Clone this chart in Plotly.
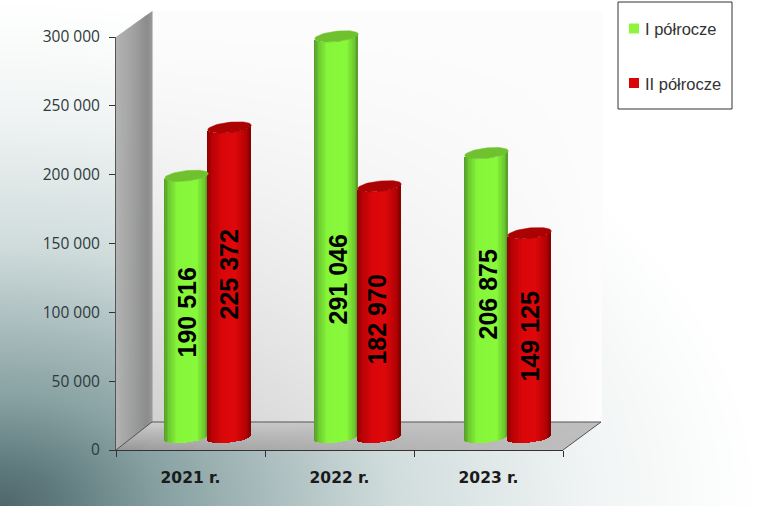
import numpy as np
import plotly.graph_objects as go

# ---- data ----
categories = ["2021 r.", "2022 r.", "2023 r."]
series_1_name = "I półrocze"
series_2_name = "II półrocze"
series_1 = [190516, 291046, 206875]
series_2 = [225372, 182970, 149125]
label_1_at = [91600, 115400, 104600]
label_2_at = [119000, 86500, 74300]
y_ticks = [0, 50000, 100000, 150000, 200000, 250000, 300000]

W, H = 760, 506
fig = go.Figure()


def dx(a, b):
    return [a / W, b / W]


def dy(top, bottom):
    return [1 - bottom / H, 1 - top / H]


# page gradient
gx = np.linspace(0, W, 120)
gy = np.linspace(0, H, 80)
X, Y = np.meshgrid(gx, gy)
R = np.sqrt(X ** 2 + ((H - Y) * 1.5) ** 2)
fig.add_trace(go.Heatmap(
    x=gx, y=gy, z=R, zmin=0, zmax=800, zsmooth="best", showscale=False, hoverinfo="skip",
    colorscale=[[0, "#4e666a"], [0.075, "#5f7a7d"], [0.2, "#86a0a1"], [0.35, "#adbfc0"],
                [0.49, "#d0dcdc"], [0.75, "#f2f5f5"], [0.95, "#ffffff"], [1, "#ffffff"]],
    xaxis="x", yaxis="y"))

# back wall
wx = np.linspace(0, 1, 40)
wy = np.linspace(0, 1, 40)
WX, WY = np.meshgrid(wx, wy)
WZ = 1 - 0.01 - 0.17 * WY ** 1.4 * (1 - WX) ** 0.9
fig.add_trace(go.Heatmap(
    x=wx, y=wy, z=WZ, zmin=0, zmax=1, zsmooth="best", showscale=False, hoverinfo="skip",
    colorscale=[[0, "#000000"], [1, "#ffffff"]], xaxis="x2", yaxis="y2"))


# left wall and floor: decoration in page pixels on x3/y3
def lerp(c1, c2, t):
    return "rgb(%d,%d,%d)" % tuple(round(a + (b - a) * t) for a, b in zip(c1, c2))


shapes = []
NS = 36
for i in range(NS):
    t0, t1 = i / NS, min((i + 1.6) / NS, 1)
    xa, xb = 116 + 36.5 * t0, 116 + 36.5 * t1
    ya_t, yb_t = 37 - 26 * t0, 37 - 26 * t1
    ya_b, yb_b = 450 - 28.5 * t0, 450 - 28.5 * t1
    f = i / NS
    col = lerp((178, 178, 178), (140, 140, 140), f / 0.85) if f < 0.85 else lerp((140, 140, 140), (156, 156, 156), (f - 0.85) / 0.15)
    shapes.append(dict(type="path", xref="x3", yref="y3", layer="below", line_width=0, fillcolor=col,
                       path=f"M{xa},{ya_t}L{xb},{yb_t}L{xb},{yb_b}L{xa},{ya_b}Z"))
NF_Y, NF_X = 14, 18
for i in range(NF_Y):
    t0, t1 = i / NF_Y, min((i + 1.5) / NF_Y, 1)
    y0, y1 = 422 + 28 * t0, 422 + 28 * t1
    xl0, xl1 = 152 - 36 * t0, 152 - 36 * t1
    xr0, xr1 = 601 - 38 * t0, 601 - 38 * t1
    for j in range(NF_X):
        s0, s1 = j / NF_X, min((j + 1.3) / NF_X, 1)
        base = 205 - 55 * (i / NF_Y)
        g = base + (190 - base) * (j / NF_X) ** 0.7
        pts = [(xl0 + (xr0 - xl0) * s0, y0), (xl0 + (xr0 - xl0) * s1, y0),
               (xl1 + (xr1 - xl1) * s1, y1), (xl1 + (xr1 - xl1) * s0, y1)]
        path = "M" + "L".join(f"{a:.1f},{b:.1f}" for a, b in pts) + "Z"
        shapes.append(dict(type="path", xref="x3", yref="y3", layer="below", line_width=0,
                           fillcolor=lerp((g, g, g), (g, g, g), 0), path=path))
for p in ["M152,422L601,422", "M116,450L152,422", "M563,450L601,422"]:
    shapes.append(dict(type="path", xref="x3", yref="y3", layer="below",
                       line=dict(color="#555555", width=1), path=p))
# legend box
shapes.append(dict(type="rect", xref="x3", yref="y3", layer="below", x0=618, x1=732, y0=2, y1=109,
                   fillcolor="#ffffff", line=dict(color="#333333", width=1)))
legend_names = [series_1_name, series_2_name]
legend_colors = ["#8cf53c", "#d80408"]
fig.add_trace(go.Scatter(x=[634, 634], y=[28.5, 83], mode="markers", showlegend=False, hoverinfo="skip",
                         marker=dict(symbol="square", size=10, color=legend_colors, line_width=0),
                         xaxis="x3", yaxis="y3"))

# tick axes
fig.add_trace(go.Bar(x=categories, y=[None] * 3, showlegend=False, hoverinfo="skip", xaxis="x4", yaxis="y4"))

# cylinders
PX_PER_VAL = 416 / 300000
VAL_PER_PX = 1 / PX_PER_VAL
GROUP_PX = 150
half = 21.8 / GROUP_PX
shift = 21.5 / GROUP_PX
B = 5.2
TILT = 2.3
BASE_PX = 2.5  # ellipse centre above the axis zero
N = 32
US = (np.arange(N) + 0.5) / N * 2 - 1
GREEN = [(0.0, (84, 150, 42)), (0.1, (106, 200, 46)), (0.3, (134, 246, 58)), (0.75, (136, 248, 58)),
         (0.92, (108, 200, 46)), (1.0, (86, 150, 42))]
RED = [(0.0, (140, 0, 0)), (0.12, (185, 2, 5)), (0.35, (218, 6, 9)), (0.65, (220, 8, 10)),
       (0.88, (182, 2, 5)), (1.0, (130, 0, 0))]


def ramp(stops, t):
    for (a, ca), (b, cb) in zip(stops, stops[1:]):
        if t <= b:
            return lerp(ca, cb, (t - a) / (b - a))
    return lerp(stops[-1][1], stops[-1][1], 0)


def cylinder_strips(values, offset, stops):
    xs, tops, bases, colors = [], [], [], []
    for i, v in enumerate(values):
        for u in US:
            curve = B * np.sqrt(1 - u * u)
            xs.append(i + offset + u * half)
            bases.append((BASE_PX - curve + TILT * u) * VAL_PER_PX)
            tops.append(v + (-curve + TILT * u) * VAL_PER_PX)
            colors.append(ramp(stops, (u + 1) / 2))
    h = [t - b for t, b in zip(tops, bases)]
    return xs, h, bases, colors


strip_w = 2 * half / N * 1.25
for vals, off, stops, name in [(series_1, -shift, GREEN, series_1_name), (series_2, shift, RED, series_2_name)]:
    xs, h, bases, colors = cylinder_strips(vals, off, stops)
    fig.add_trace(go.Bar(x=xs, y=h, base=bases, width=strip_w, marker=dict(color=colors, line_width=0),
                         name=name, showlegend=False, hoverinfo="skip", xaxis="x5", yaxis="y5"))

# caps
theta = np.linspace(0, 2 * np.pi, 60)
for vals, off, col in [(series_1, -shift, "#6fc22e"), (series_2, shift, "#ab0204")]:
    for i, v in enumerate(vals):
        cx = i + off + half * np.cos(theta)
        cy = v + (B * np.sin(theta) + TILT * np.cos(theta)) * VAL_PER_PX
        fig.add_trace(go.Scatter(x=cx, y=cy, mode="lines", fill="toself", fillcolor=col,
                                 line=dict(color=col, width=0.5), showlegend=False, hoverinfo="skip",
                                 xaxis="x5", yaxis="y5"))

# value labels
label_nudges = [[0, 1, 1], [-1, -2, 0]]
annotations = []
for vals, at, off, nudge in [(series_1, label_1_at, -shift, label_nudges[0]), (series_2, label_2_at, shift, label_nudges[1])]:
    for i, (v, a) in enumerate(zip(vals, at)):
        annotations.append(dict(x=i + off, y=a, xref="x5", yref="y5", showarrow=False, textangle=-90,
                                xshift=nudge[i], text=f"{v:,}".replace(",", " "),
                                font=dict(family="Liberation Sans", size=25, color="#000000", weight="bold")))
# legend texts
for name, py in zip(legend_names, [28.5, 83.5]):
    annotations.append(dict(x=643, y=py, xref="x3", yref="y3", showarrow=False, xanchor="left", text=name,
                            font=dict(family="Liberation Sans", size=16.5, color="#333333")))

y5_lo, y5_hi = -30000, 310000
y5_bottom = 440 - y5_lo * PX_PER_VAL
y5_top = 440 - y5_hi * PX_PER_VAL
x5_left = 208 - 0.5 * GROUP_PX
x5_right = 208 + 2.5 * GROUP_PX

hidden = dict(visible=False, automargin=False)
fig.update_layout(
    width=W, height=H, margin=dict(l=0, r=0, t=0, b=0, pad=0),
    paper_bgcolor="#ffffff", plot_bgcolor="rgba(0,0,0,0)",
    barmode="overlay", bargap=0, shapes=shapes, annotations=annotations, showlegend=False,
    xaxis=dict(domain=[0, 1], range=[0, W], **hidden),
    yaxis=dict(domain=[0, 1], range=[H, 0], **hidden),
    xaxis2=dict(domain=dx(152, 602), range=[0, 1], anchor="y2", **hidden),
    yaxis2=dict(domain=dy(11, 422), range=[1, 0], anchor="x2", **hidden),
    xaxis3=dict(domain=[0, 1], range=[0, W], anchor="y3", **hidden),
    yaxis3=dict(domain=[0, 1], range=[H, 0], anchor="x3", **hidden),
    xaxis4=dict(domain=dx(116, 563), anchor="y4", type="category", categoryorder="array", automargin=False,
                categoryarray=categories, tickson="boundaries", ticks="outside", ticklen=6, tickwidth=1,
                tickcolor="#333333", showline=True, linecolor="#333333", linewidth=1, showgrid=False,
                tickfont=dict(family="DejaVu Sans", size=15.5, color="#1a1a1a", weight="bold"), ticklabelstandoff=13),
    yaxis4=dict(domain=dy(37, 450), range=[0, 300000], anchor="x4", tickvals=y_ticks, automargin=False,
                ticktext=[f"{t:,}".replace(",", " ") for t in y_ticks], ticks="outside", ticklen=6,
                tickwidth=1, tickcolor="#333333", showline=True, linecolor="#555555", showgrid=False, zeroline=False,
                tickfont=dict(family="Open Sans", size=15.5, color="#2d3a3c"), ticklabelstandoff=6),
    xaxis5=dict(domain=dx(x5_left, x5_right), range=[-0.5, 2.5], anchor="y5", **hidden),
    yaxis5=dict(domain=dy(y5_top, y5_bottom), range=[y5_lo, y5_hi], anchor="x5", **hidden),
)
fig.write_html("out.html", config=dict(displayModeBar=False), post_script="document.body.style.margin='0';")
